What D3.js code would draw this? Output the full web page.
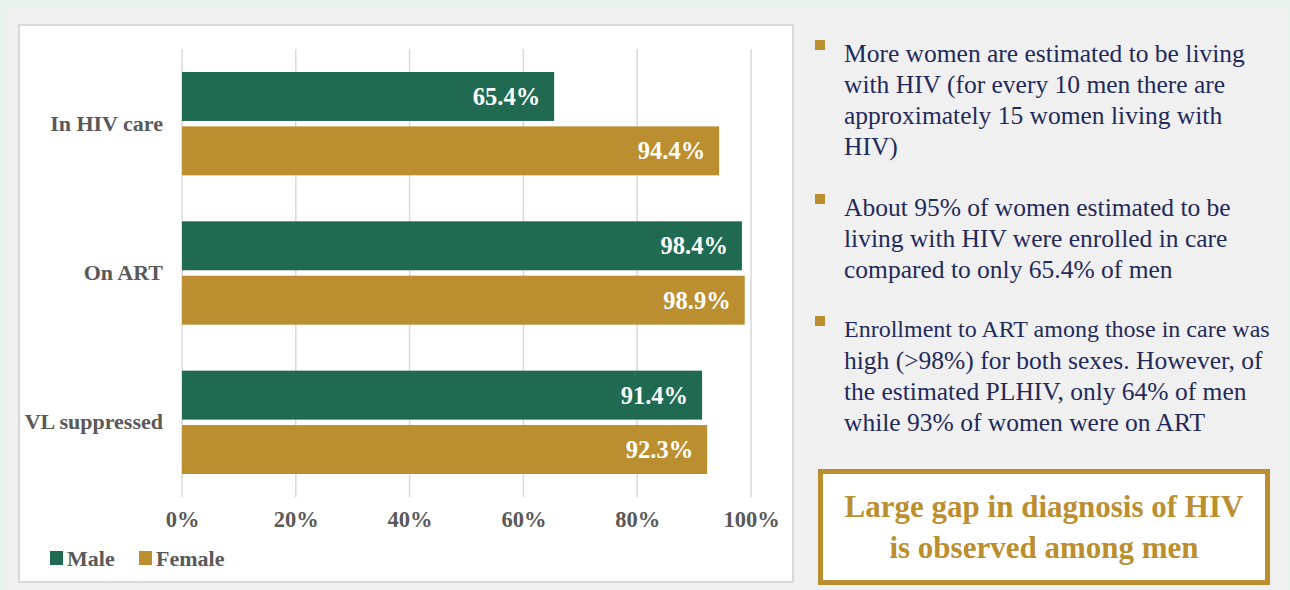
<!DOCTYPE html>
<html><head><meta charset="utf-8">
<script src="https://cdn.jsdelivr.net/npm/d3@7"></script>
<style>
html,body{margin:0;padding:0;background:#e5f3ec;}
svg{display:block;}
</style></head>
<body>
<svg id="c" width="1290" height="590"></svg>
<script>
const categories = ["In HIV care", "On ART", "VL suppressed"];
const seriesNames = ["Male", "Female"];
const maleValues = [65.4, 98.4, 91.4];
const femaleValues = [94.4, 98.9, 92.3];
const tickValues = [0, 20, 40, 60, 80, 100];
const bullets = [
  ["More women are estimated to be living", "with HIV (for every 10 men there are", "approximately 15 women living with", "HIV)"],
  ["About 95% of women estimated to be", "living with HIV were enrolled in care", "compared to only 65.4% of men"],
  ["Enrollment to ART among those in care was", "high (>98%) for both sexes. However, of", "the estimated PLHIV, only 64% of men", "while 93% of women were on ART"]
];
const calloutLines = ["Large gap in diagnosis of HIV", "is observed among men"];

const GREEN = "#1f6a50", GOLD = "#bb8f2f", GRAY = "#595959", NAVY = "#1f2a5c";
const FONT = "'Liberation Serif', 'DejaVu Serif', serif";
const svg = d3.select("#c");

// backgrounds
svg.append("rect").attr("x",0).attr("y",0).attr("width",1290).attr("height",590).attr("fill","#e5f3ec");
svg.append("rect").attr("x",6).attr("y",8).attr("width",1282).attr("height",582).attr("fill","#f0f0f0");
svg.append("rect").attr("x",19).attr("y",25).attr("width",774).attr("height",557)
  .attr("fill","#ffffff").attr("stroke","#d9d9d9").attr("stroke-width",2);

const data = categories.map((c,i)=>({cat:c, vals:[maleValues[i], femaleValues[i]]}));

const x = d3.scaleLinear().domain([0,100]).range([182,751]);
const y = d3.scaleBand().domain(categories).range([49,497]).paddingInner(0).paddingOuter(0);
const ySub = d3.scaleBand().domain(seriesNames).range([23, y.bandwidth()-23]).paddingInner(0.1);

// gridlines
svg.append("g").selectAll("line").data(tickValues).join("line")
  .attr("x1",d=>x(d)).attr("x2",d=>x(d)).attr("y1",49).attr("y2",497)
  .attr("stroke","#d9d9d9").attr("stroke-width",1.5);

// x axis labels
const xAxis = d3.axisBottom(x).tickValues(tickValues).tickFormat(d=>d+"%").tickSize(0).tickPadding(0);
const gx = svg.append("g").attr("transform","translate(0,520)").call(xAxis);
gx.select(".domain").remove();
gx.selectAll("text").attr("font-family",FONT).attr("font-weight","bold").attr("font-size",22.5)
  .attr("fill",GRAY).attr("dy","0.32em");

// y axis labels
const yAxis = d3.axisLeft(y).tickSize(0).tickPadding(0);
const gy = svg.append("g").attr("transform","translate(163,0)").call(yAxis);
gy.select(".domain").remove();
gy.selectAll("text").attr("font-family",FONT).attr("font-weight","bold").attr("font-size",22)
  .attr("fill",GRAY).attr("dy","0.32em");

// bars
const groups = svg.append("g").selectAll("g").data(data).join("g")
  .attr("transform",d=>`translate(0,${y(d.cat)})`);
groups.selectAll("rect").data(d=>d.vals.map((v,i)=>({v, s:seriesNames[i]}))).join("rect")
  .attr("x",x(0)).attr("y",d=>ySub(d.s)).attr("width",d=>x(d.v)-x(0)).attr("height",ySub.bandwidth())
  .attr("fill",d=>d.s==="Male"?GREEN:GOLD);
groups.selectAll("text").data(d=>d.vals.map((v,i)=>({v, s:seriesNames[i]}))).join("text")
  .attr("x",d=>x(d.v)-14).attr("y",d=>ySub(d.s)+ySub.bandwidth()/2).attr("dy","0.35em")
  .attr("text-anchor","end").attr("font-family",FONT).attr("font-weight","bold").attr("font-size",24.5)
  .attr("fill","#ffffff").text(d=>d.v.toFixed(1)+"%");

// legend
const leg = svg.append("g").attr("transform","translate(50,558)");
const legX = [0, 89];
seriesNames.forEach((s,i)=>{
  leg.append("rect").attr("x",legX[i]).attr("y",-7).attr("width",13).attr("height",14)
    .attr("fill",i===0?GREEN:GOLD);
  leg.append("text").attr("x",legX[i]+17).attr("y",0).attr("dy","0.35em")
    .attr("font-family",FONT).attr("font-weight","bold").attr("font-size",22).attr("fill",GRAY).text(s);
});

// right bullets
const bulletTop = [53, 207, 329];
const maxW = 1270 - 844;
const BFS = 25.5;
bullets.forEach((lines,bi)=>{
  svg.append("rect").attr("x",815).attr("y",bulletTop[bi]-13).attr("width",10).attr("height",10).attr("fill",GOLD);
  lines.forEach((ln,li)=>{
    const t = svg.append("text").attr("x",844).attr("y",bulletTop[bi]+li*31).attr("dy","0.35em")
      .attr("font-family",FONT).attr("font-size",BFS).attr("fill",NAVY).text(ln);
    const w = t.node().getComputedTextLength();
    if (w > maxW) t.attr("font-size", BFS * maxW / w);
  });
});

// callout box
svg.append("rect").attr("x",820.5).attr("y",471.5).attr("width",447).attr("height",111)
  .attr("fill","#ffffff").attr("stroke",GOLD).attr("stroke-width",5);
calloutLines.forEach((ln,i)=>{
  svg.append("text").attr("x",1044).attr("y",506+i*41).attr("dy","0.35em").attr("text-anchor","middle")
    .attr("font-family",FONT).attr("font-weight","bold").attr("font-size",31).attr("fill",GOLD).text(ln);
});
</script>
</body></html>
